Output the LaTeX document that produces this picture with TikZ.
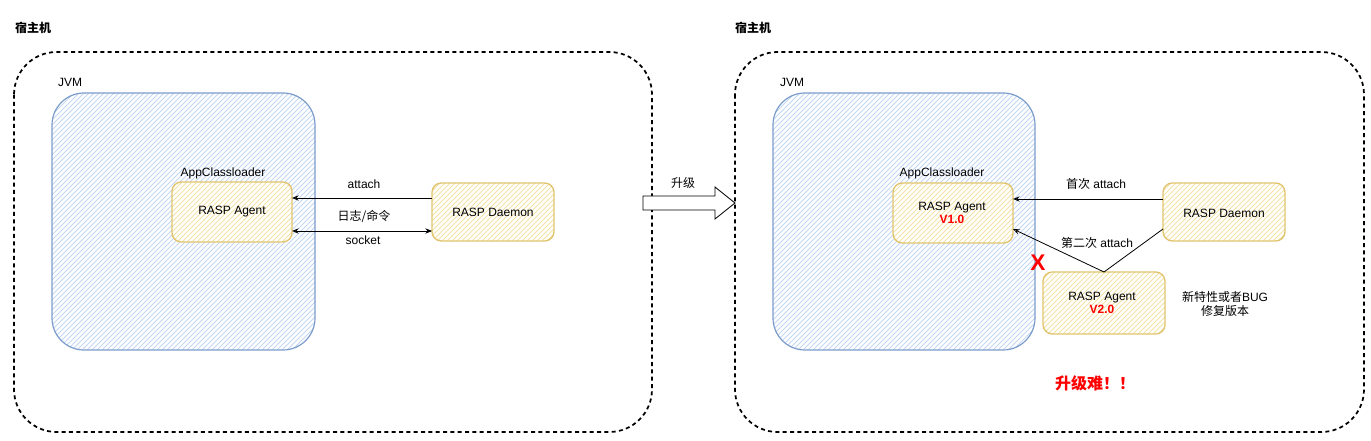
\documentclass[tikz,border=0pt]{standalone}
\usepackage{fontspec}
\setmainfont{Liberation Sans}
\newfontfamily\cjk{Noto Sans CJK SC}
\usetikzlibrary{arrows.meta}
\definecolor{jvmline}{HTML}{7C9CCB}
\definecolor{jvmfill}{HTML}{C3D6F4}
\definecolor{agline}{HTML}{E0C56E}
\definecolor{agfill}{HTML}{F3E2A6}
\definecolor{redx}{HTML}{FF0000}
\tikzset{
  hatch/.style={path picture={
    \foreach \k in {0,5,...,700}{
      \draw[#1, line width=0.55pt] ([xshift=\k*0.75pt-300pt]path picture bounding box.south west) -- ++(300,-300);
    }}},
  host/.style={draw=black, line width=1.3pt, dash pattern=on 3pt off 2.5pt, rounded corners=32pt},
  jvmbox/.style={draw=jvmline, line width=0.9pt, rounded corners=24pt, fill=white, hatch=jvmfill},
  agbox/.style={draw=agline, line width=1pt, rounded corners=7pt, fill=white, hatch=agfill},
  lbl/.style={font=\fontsize{9}{11}\selectfont, inner sep=1pt},
  conn/.style={draw=black, line width=0.6pt, -{Stealth[length=5pt,width=4pt,open]}},
  conn2/.style={draw=black, line width=0.6pt, {Stealth[length=5pt,width=4pt,open]}-{Stealth[length=5pt,width=4pt]}},
}
\begin{document}
\begin{tikzpicture}[x=0.75pt,y=-0.75pt]
\useasboundingbox (0,0) rectangle (1371,441);
% ---------- left host ----------
\node[lbl, font=\cjk\bfseries\fontsize{9}{11}\selectfont] (h1) at (33,28) {宿主机};
\draw[host] (14,52) rectangle (652,432);
\node[lbl] (jvm1) at (70,82) {JVM};
\draw[jvmbox] (52,93) rectangle (315,350);
\node[lbl] (acl1) at (223,173) {AppClassloader};
\draw[agbox] (172,182) rectangle (292,242);
\node[lbl] (ag1) at (232,212) {RASP Agent};
\coordinate (ag1e1) at (292,198);
\coordinate (ag1e2) at (292,231);
\draw[agbox] (432,183) rectangle (554,241);
\node[lbl] (dm1) at (493,212) {RASP Daemon};
\coordinate (dm1w1) at (432,198);
\coordinate (dm1w2) at (432,231);
\draw[conn] (dm1w1) -- (ag1e1);
\draw[conn2] (ag1e2) -- (dm1w2);
\node[lbl] (t1) at (364,184) {attach};
\node[lbl, font=\cjk\fontsize{9}{11}\selectfont] (t2) at (364,216) {日志/命令};
\node[lbl] (t3) at (363,240) {socket};
% ---------- upgrade arrow ----------
\draw[line width=0.6pt, fill=white] (643,196) -- (715,196) -- (715,187) -- (735,203) -- (715,219) -- (715,210) -- (643,210) -- cycle;
\node[lbl, font=\cjk\fontsize{9}{11}\selectfont] (up) at (683,183) {升级};
% ---------- right host ----------
\node[lbl, font=\cjk\bfseries\fontsize{9}{11}\selectfont] (h2) at (753,28) {宿主机};
\draw[host] (735,52) rectangle (1364,432);
\node[lbl] (jvm2) at (792,82) {JVM};
\draw[jvmbox] (773,93) rectangle (1035,350);
\node[lbl] (acl2) at (942,173) {AppClassloader};
\draw[agbox] (893,183) rectangle (1013,243);
\node[lbl, align=center] (ag2) at (952,213) {RASP Agent\\[-1pt]{\bfseries\color{redx}V1.0}};
\coordinate (ag2e1) at (1013,199);
\coordinate (ag2e2) at (1013,229);
\draw[agbox] (1163,183) rectangle (1285,241);
\node[lbl] (dm2) at (1224,213) {RASP Daemon};
\coordinate (dm2w1) at (1163,199);
\coordinate (dm2w2) at (1163,229);
\draw[agbox] (1043,272) rectangle (1165,334);
\node[lbl, align=center] (ag3) at (1102,303) {RASP Agent\\[-1pt]{\bfseries\color{redx}V2.0}};
\coordinate (ag3n) at (1104,272);
\draw[conn] (dm2w1) -- (ag2e1);
\draw[line width=0.6pt] (dm2w2) -- (ag3n);
\draw[conn] (ag3n) -- (ag2e2);
\node[lbl, fill=white, inner sep=0.5pt] (t4) at (1096,184) {{\cjk 首次} attach};
\node[lbl, fill=white, inner sep=0.5pt] (t5) at (1097,243) {{\cjk 第二次} attach};
\node[lbl, text=redx, font=\bfseries\fontsize{17}{18}\selectfont] (x) at (1038,263) {X};
\node[lbl, align=center, font=\cjk\fontsize{9}{11}\selectfont] (nt) at (1225,304) {新特性或者\textrm{BUG}\\修复版本};
\node[lbl, text=redx, font=\cjk\bfseries\fontsize{12}{14}\selectfont] (hard) at (1095,383) {升级难！！};
\end{tikzpicture}
\end{document}
